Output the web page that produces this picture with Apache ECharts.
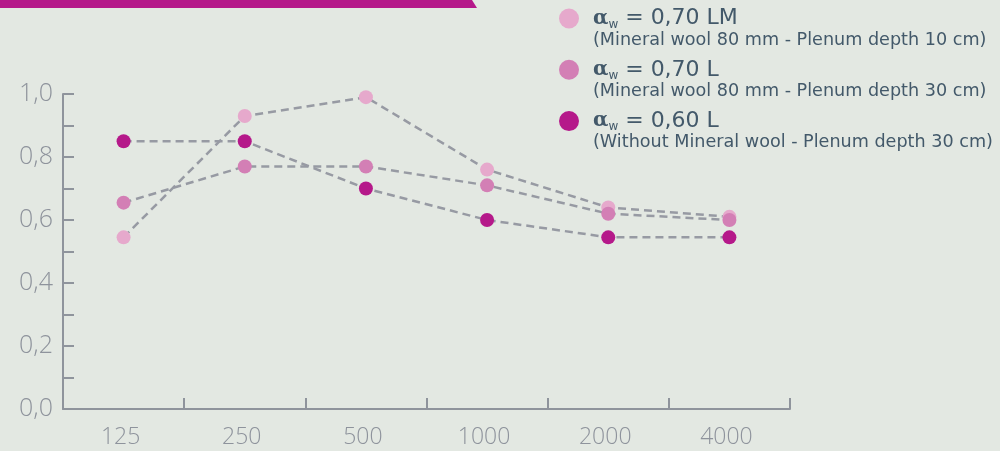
<!DOCTYPE html>
<html>
<head>
<meta charset="utf-8">
<script src="https://cdn.jsdelivr.net/npm/echarts@6/dist/echarts.min.js"></script>
<style>
html,body{margin:0;padding:0;background:#e3e8e2;}
#chart{width:1000px;height:451px;}
</style>
</head>
<body>
<div id="chart"></div>
<script>
var categories = ['125', '250', '500', '1000', '2000', '4000'];
var seriesNames = ['0,70 LM', '0,70 L', '0,60 L'];
var seriesNotes = [
  '(Mineral wool 80 mm - Plenum depth 10 cm)',
  '(Mineral wool 80 mm - Plenum depth 30 cm)',
  '(Without Mineral wool - Plenum depth 30 cm)'
];
var valuesLM = [0.545, 0.93, 0.99, 0.76, 0.64, 0.61];
var valuesL = [0.655, 0.77, 0.77, 0.71, 0.62, 0.60];
var values060L = [0.85, 0.85, 0.70, 0.60, 0.545, 0.545];
var seriesColors = ['#e6a9cc', '#d37fb5', '#b5198a'];
var yTicks = [0, 0.1, 0.2, 0.3, 0.4, 0.5, 0.6, 0.7, 0.8, 0.9, 1.0];

var chart = echarts.init(document.getElementById('chart'), null, {renderer: 'canvas'});
var allValues = [valuesLM, valuesL, values060L];
var axisGray = '#8f949c';
var labelGray = '#8e939c';
var textDark = '#43596a';

var series = allValues.map(function (vals, i) {
  return {
    name: seriesNames[i],
    type: 'line',
    data: vals,
    symbol: 'circle',
    symbolSize: 14,
    showSymbol: true,
    itemStyle: {color: seriesColors[i]},
    lineStyle: {color: '#979aa3', width: 2.5, type: [8, 5]},
    z: 2 + i,
    animation: false
  };
});

var graphics = [{
  type: 'polygon',
  shape: {points: [[0, 0], [472, 0], [477, 8], [0, 8]]},
  style: {fill: '#b5198a'}
}];
seriesNames.forEach(function (name, i) {
  var cy = 18.5 + i * 51.3;
  graphics.push({
    type: 'circle',
    shape: {cx: 569, cy: cy, r: 10},
    style: {fill: seriesColors[i]}
  });
  graphics.push({
    type: 'text',
    x: 593, y: cy,
    style: {
      text: '{a|α}{w|w}{t| = ' + name + '}',
      verticalAlign: 'middle',
      rich: {
        a: {fontFamily: 'DejaVu Serif', fontWeight: 'bold', fontSize: 20, fill: textDark, lineHeight: 24},
        w: {fontFamily: 'DejaVu Sans', fontSize: 12, fill: textDark, verticalAlign: 'bottom', lineHeight: 24, padding: [9, 0, 0, 0]},
        t: {fontFamily: 'DejaVu Sans', fontSize: 22, fill: textDark, lineHeight: 24}
      }
    }
  });
  graphics.push({
    type: 'text',
    x: 593, y: cy + 21.5,
    style: {
      text: seriesNotes[i],
      fontFamily: 'DejaVu Sans',
      fontSize: 17.6,
      fill: textDark,
      verticalAlign: 'middle'
    }
  });
});

chart.setOption({
  backgroundColor: '#e3e8e2',
  animation: false,
  grid: {left: 63, right: 210, top: 94, bottom: 42, containLabel: false},
  xAxis: {
    type: 'category',
    data: categories,
    boundaryGap: true,
    axisLine: {lineStyle: {color: axisGray, width: 2}},
    axisTick: {show: true, inside: true, length: 11, lineStyle: {color: axisGray, width: 2}},
    axisLabel: {color: labelGray, fontFamily: 'Open Sans', fontWeight: 300, fontSize: 23, margin: 17, padding: [0, 6, 0, 0]},
    splitLine: {show: false}
  },
  yAxis: {
    type: 'value',
    min: yTicks[0],
    max: yTicks[yTicks.length - 1],
    interval: 0.1,
    axisLine: {show: true, lineStyle: {color: axisGray, width: 2}},
    axisTick: {show: true, inside: true, length: 11, lineStyle: {color: axisGray, width: 2}},
    axisLabel: {
      color: labelGray, fontFamily: 'Open Sans', fontWeight: 300, fontSize: 25, margin: 10,
      formatter: function (v) {
        var k = Math.round(v * 10);
        if (k % 2 !== 0) return '';
        return (k / 10).toFixed(1).replace('.', ',');
      }
    },
    splitLine: {show: false}
  },
  series: series,
  graphic: graphics
});
</script>
</body>
</html>
